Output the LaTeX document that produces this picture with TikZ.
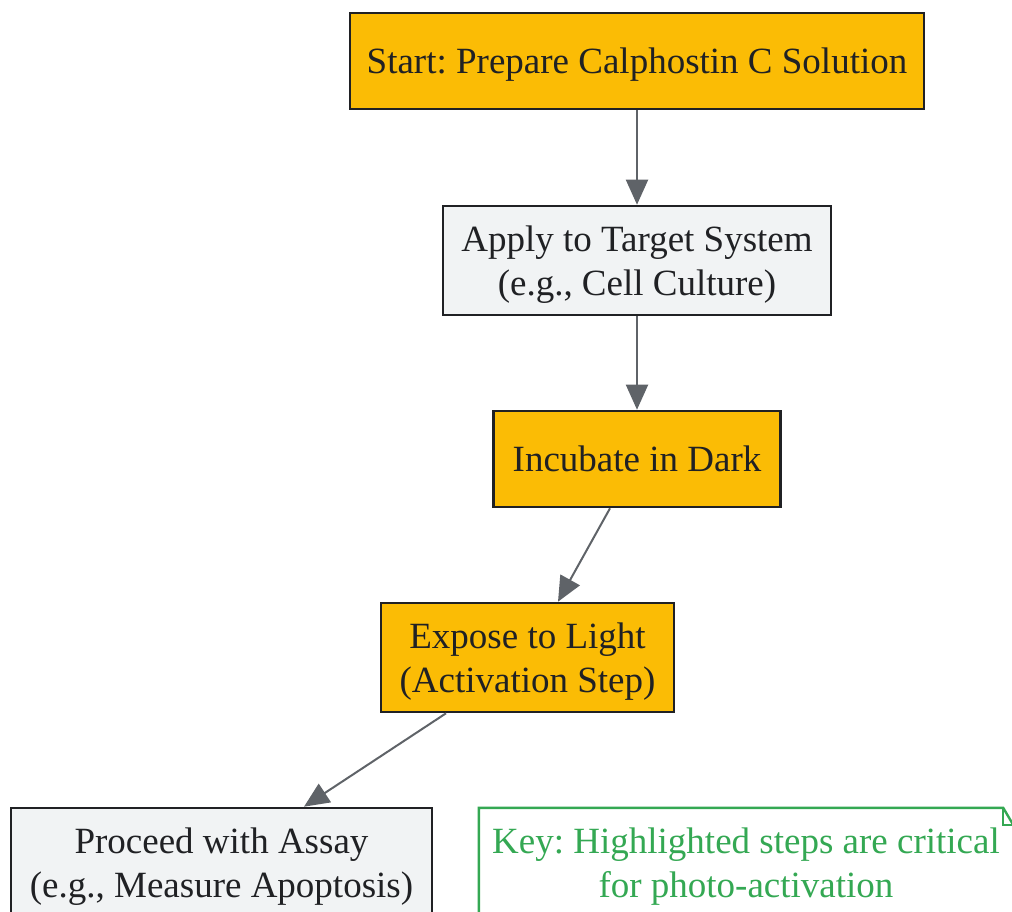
\documentclass[tikz,border=0pt]{standalone}
\usepackage{fontspec}
\setmainfont{Liberation Serif}
\usetikzlibrary{arrows.meta}
\definecolor{stepyellow}{HTML}{FBBC05}
\definecolor{stepgray}{HTML}{F1F3F4}
\definecolor{edgegray}{HTML}{5F6368}
\definecolor{keygreen}{HTML}{34A853}
\definecolor{textdark}{HTML}{202124}

\begin{document}
\frenchspacing
\begin{tikzpicture}[x=1pt,y=-1pt,
  box/.style={draw=textdark, line width=2.6pt, text=textdark, align=center, inner sep=0pt, text depth=0pt, font=\fontsize{37}{44}\selectfont},
  flow/.style={draw=edgegray, line width=2pt, -{Triangle[length=25pt,width=22pt]}}]
\useasboundingbox (0,0) rectangle (1012,912);

\node [box, fill=stepyellow, minimum width=574pt, minimum height=96pt] (prep) at (637,61) {Start: Prepare Calphostin C Solution};
\node [box, fill=stepgray, minimum width=388pt, minimum height=109pt] (apply) at (637,260.5) {Apply to Target System\\(e.g., Cell Culture)};
\node [box, fill=stepyellow, minimum width=287pt, minimum height=96pt] (dark) at (637,459) {Incubate in Dark};
\node [box, fill=stepyellow, minimum width=293pt, minimum height=109pt] (light) at (527.5,657.5) {Expose to Light\\(Activation Step)};
\node [box, fill=stepgray, minimum width=421pt, minimum height=109pt] (assay) at (221.5,862.5) {Proceed with Assay\\(e.g., Measure Apoptosis)};

\draw [flow] (prep) -- (apply);
\draw [flow] (apply) -- (dark);
\draw [flow] ([xshift=-27pt]dark.south) -- ([xshift=30.5pt]light.north);
\draw [flow] ([xshift=-81.5pt]light.south) -- ([xshift=82.5pt]assay.north);

% key note with folded corner
\node [text=keygreen, align=center, inner sep=0pt, text depth=0pt, minimum width=534pt, minimum height=109pt, font=\fontsize{37}{44}\selectfont] (key) at (746,862.5) {Key: Highlighted steps are critical\\for photo-activation};
\draw [keygreen, line width=2.4pt] (key.south west) -- (key.north west) -- ([xshift=-10pt]key.north east) -- ([yshift=-17pt]key.north east) -- (key.south east);
\draw [keygreen, line width=2.4pt] ([xshift=-10pt]key.north east) |- ([yshift=-17pt]key.north east);

\end{tikzpicture}
\end{document}
